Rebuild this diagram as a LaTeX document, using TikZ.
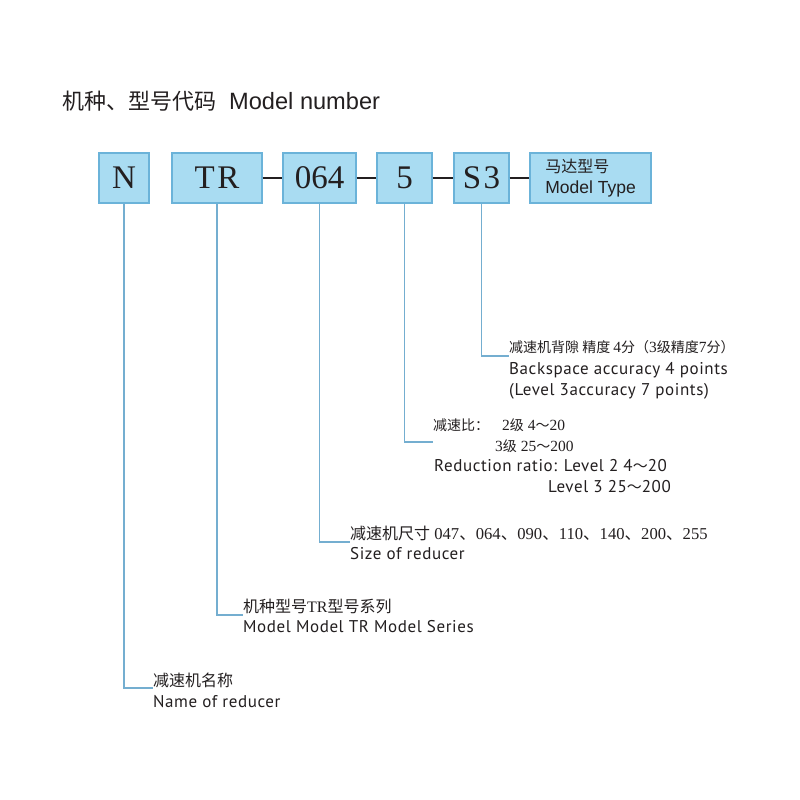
\documentclass[tikz,border=0pt]{standalone}
\usepackage{fontspec}
\setmainfont{Liberation Serif}
\setsansfont{PT Sans}[LetterSpace=3.5]
\newfontfamily\cjk{Noto Sans CJK SC}
\newfontfamily\arial{Liberation Sans}
\usetikzlibrary{positioning}
\definecolor{boxfill}{HTML}{A9DCF2}
\definecolor{boxline}{HTML}{6BB3D9}
\definecolor{leadline}{HTML}{74AED0}
\definecolor{ink}{HTML}{231F20}
\newcommand\zh[1]{{\cjk #1}}
\newcommand\zhs[1]{{\cjk\fontsize{14}{14}\selectfont #1}}

\begin{document}
\begin{tikzpicture}[x=1pt,y=-1pt,
	codebox/.style={draw=boxline, fill=boxfill, line width=1.4pt, minimum height=50pt, inner sep=0pt, text=ink, font=\fontsize{33}{33}\selectfont},
	joint/.style={ink, line width=2.6pt},
	lead/.style={leadline, line width=1.8pt},
	zhline/.style={anchor=base west, inner sep=0pt, text=ink, font=\fontsize{16}{16}\selectfont},
	zhsmall/.style={zhline, font=\fontsize{15.5}{15.5}\selectfont},
	enline/.style={anchor=base west, inner sep=0pt, text=ink, font=\sffamily\fontsize{17}{18}\selectfont}]
	
	\useasboundingbox[fill=white] (0,0) rectangle (800,800);
	
	% title
	\node[anchor=base west, inner sep=0pt, text=ink] (title) at (62,109) {{\cjk\fontsize{22}{22}\selectfont 机种、型号代码}\hspace{13pt}{\arial\fontsize{23.6}{24}\selectfont Model number}};
	
	% code boxes
	\node[codebox, minimum width=50pt] (n) at (124,178) {N};
	\node[codebox, minimum width=90pt] (tr) at (217,178) {T\kern2.5pt R};
	\node[codebox, minimum width=73pt] (size) at (319.5,178) {064};
	\node[codebox, minimum width=55pt] (ratio) at (404.5,178) {5};
	\node[codebox, minimum width=55pt] (gap) at (481.5,178) {S\kern2.5pt 3};
	\node[codebox, minimum width=121pt, align=left, font=\arial\fontsize{17.5}{21}\selectfont] (motor) at (590.5,178) {{\cjk\fontsize{16}{16}\selectfont 马达型号}\\Model Type};
	
	\draw[joint] (tr) -- (size);
	\draw[joint] (size) -- (ratio);
	\draw[joint] (ratio) -- (gap);
	\draw[joint] (gap) -- (motor);
	
	% descriptions
	\node[zhsmall] (gapZh) at (509,352) {\zhs{减速机背隙 精度 }4\zhs{分（}3\zhs{级精度}7\zhs{分）}};
	\node[enline] (gapEn) at (509,374) {Backspace accuracy 4 points};
	\node[enline] (gapEnB) at (509,395) {(Level 3accuracy 7 points)};
	
	\node[zhsmall] (ratioZh) at (433,430) {\zhs{减速比：}\hspace{13pt}2\zhs{级} 4\zhs{～}20};
	\node[zhsmall] (ratioZhB) at (495,451) {3\zhs{级} 25\zhs{～}200};
	\node[enline] (ratioEn) at (434,471) {Reduction ratio: Level 2 4{\cjk\fontsize{15}{15}\selectfont ～}20};
	\node[enline] (ratioEnB) at (548,492) {Level 3 25{\cjk\fontsize{15}{15}\selectfont ～}200};
	
	\node[zhline, font=\fontsize{16.6}{16.6}\selectfont] (sizeZh) at (350,539) {\zh{\fontsize{16}{16}\selectfont 减速机尺寸} 047\zh{、}064\zh{、}090\zh{、}110\zh{、}140\zh{、}200\zh{、}255};
	\node[enline] (sizeEn) at (350,559) {Size of reducer};
	
	\node[zhline] (trZh) at (243,612) {\zh{机种型号}TR\zh{型号系列}};
	\node[enline] (trEn) at (243,632) {Model Model TR Model Series};
	
	\node[zhline] (nZh) at (153,686) {\zh{减速机名称}};
	\node[enline] (nEn) at (153,707) {Name of reducer};
	
	% leaders
	\draw[lead] (gap.south) |- ([yshift=-4pt]gapZh.base west);
	\draw[lead] (ratio.south) |- ([yshift=-12pt]ratioZh.base west);
	\draw[lead] (size.south) |- ([yshift=-3pt]sizeZh.base west);
	\draw[lead] (tr.south) |- ([yshift=-3pt]trZh.base west);
	\draw[lead] (n.south) |- ([yshift=-2pt]nZh.base west);
	
\end{tikzpicture}
\end{document}
